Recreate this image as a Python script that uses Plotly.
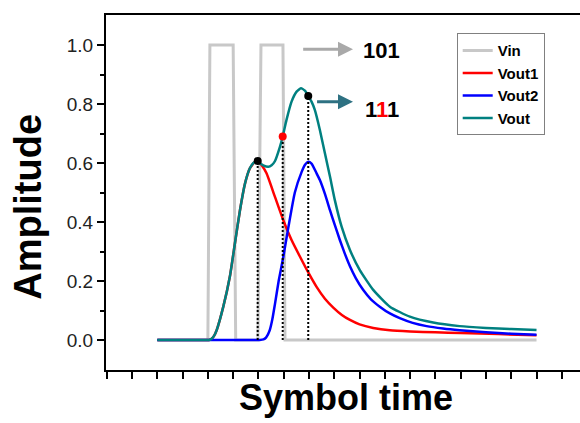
import plotly.graph_objects as go

# ---------------- data (x in symbol-time units) ----------------
vin_x = [2, 4.0, 4.08, 5.0, 5.1, 5.98, 6.1, 6.97, 7.05, 17]
vin_y = [0, 0, 1, 1, 0, 0, 1, 1, 0, 0]

vout1_x = [2, 3.0, 3.6, 3.9, 4.05, 4.15, 4.25, 4.35, 4.61, 4.87, 5.07, 5.27, 5.47, 5.66, 5.85,
           5.99, 6.15, 6.32, 6.65, 6.98, 7.31, 7.64, 7.97, 8.3, 8.63, 8.96, 9.3, 9.62, 10.0,
           10.54, 11.2, 12.0, 13.0, 14.0, 15.5, 17]
vout1_y = [0, 0, 0, 0, 0, 0.004, 0.015, 0.034, 0.113, 0.215, 0.328, 0.44, 0.531, 0.582, 0.603,
           0.605, 0.59, 0.565, 0.486, 0.407, 0.339, 0.283, 0.229, 0.18, 0.14, 0.11, 0.085,
           0.068, 0.053, 0.041, 0.033, 0.029, 0.026, 0.024, 0.02, 0.016]

vout2_x = [2, 3.5, 5.0, 5.8, 6.05, 6.2, 6.3, 6.45, 6.55, 6.65, 6.8, 6.98, 7.18, 7.44, 7.71,
           7.85, 7.97, 8.1, 8.3, 8.43, 8.63, 8.83, 9.02, 9.22, 9.42, 9.62, 9.85, 10.14,
           10.45, 10.8, 11.2, 11.59, 12.1, 12.65, 13.3, 13.96, 15.0, 16.0, 17]
vout2_y = [0, 0, 0, 0, 0, 0.002, 0.008, 0.034, 0.07, 0.12, 0.2, 0.28, 0.38, 0.5, 0.57, 0.595,
           0.604, 0.598, 0.565, 0.542, 0.495, 0.44, 0.39, 0.339, 0.292, 0.25, 0.21, 0.17,
           0.138, 0.113, 0.09, 0.074, 0.058, 0.047, 0.039, 0.033, 0.026, 0.021, 0.018]

vout_x = [2, 3.0, 3.6, 3.9, 4.05, 4.15, 4.25, 4.35, 4.61, 4.87, 5.07, 5.27, 5.47, 5.66, 5.8,
          5.93, 6.05, 6.19, 6.39, 6.52, 6.65, 6.85, 6.96, 7.11, 7.31, 7.51, 7.68, 7.84, 7.97,
          8.1, 8.23, 8.43, 8.63, 8.83, 9.02, 9.29, 9.62, 10.01, 10.54, 11.2, 11.99, 12.91,
          13.96, 15.0, 16.0, 17]
vout_y = [0, 0, 0, 0, 0, 0.004, 0.015, 0.034, 0.113, 0.215, 0.328, 0.44, 0.531, 0.582, 0.6,
          0.606, 0.6, 0.592, 0.587, 0.592, 0.606, 0.655, 0.69, 0.746, 0.808, 0.842, 0.853,
          0.845, 0.827, 0.808, 0.78, 0.712, 0.633, 0.554, 0.475, 0.384, 0.305, 0.237, 0.17,
          0.113, 0.079, 0.059, 0.047, 0.041, 0.037, 0.034]

dot_x = [5.97, 6.96, 7.97]
dot_y = [0.607, 0.69, 0.827]
dot_colors = ["black", "red", "black"]

arrow_tail_x = [7.71, 8.26]
arrow_tip_x = [9.74, 9.74]
arrow_y = [0.986, 0.808]
arrow_colors = ["#a9a9a9", "#2e7182"]
label_x = [10.87, 10.87]
label_y = [0.983, 0.78]
label_text = ["101", "1<span style='color:#ff0000'>1</span>1"]

y_tick_vals = [0.0, 0.2, 0.4, 0.6, 0.8, 1.0]
y_tick_text = ["0.0", "0.2", "0.4", "0.6", "0.8", "1.0"]

FONT = "Liberation Sans, Arial, sans-serif"
SPL = dict(shape="spline", smoothing=0.5)

fig = go.Figure()
fig.add_trace(go.Scatter(x=vin_x, y=vin_y, mode="lines", name="<b>Vin</b>",
                         line=dict(color="#c8c8c8", width=3)))
fig.add_trace(go.Scatter(x=vout1_x, y=vout1_y, mode="lines", name="<b>Vout1</b>",
                         line=dict(color="#ff0000", width=2.5, **SPL)))
fig.add_trace(go.Scatter(x=vout2_x, y=vout2_y, mode="lines", name="<b>Vout2</b>",
                         line=dict(color="#0000ff", width=2.5, **SPL)))
fig.add_trace(go.Scatter(x=vout_x, y=vout_y, mode="lines", name="<b>Vout</b>",
                         line=dict(color="#008080", width=2.5, **SPL)))

for xi, yi in zip(dot_x, dot_y):
    fig.add_trace(go.Scatter(x=[xi, xi], y=[0, yi], mode="lines", showlegend=False,
                             line=dict(color="black", width=2, dash="2px,2px")))
fig.add_trace(go.Scatter(x=dot_x, y=dot_y, mode="markers", showlegend=False,
                         marker=dict(color=dot_colors, size=8)))

for tx, hx, yy, c in zip(arrow_tail_x, arrow_tip_x, arrow_y, arrow_colors):
    fig.add_annotation(x=hx, y=yy, ax=tx, ay=yy, xref="x", yref="y", axref="x", ayref="y",
                       showarrow=True, arrowhead=2, arrowsize=1, arrowwidth=3,
                       arrowcolor=c, standoff=0, startstandoff=0, text="")
for lx, ly, t in zip(label_x, label_y, label_text):
    fig.add_annotation(x=lx, y=ly, xref="x", yref="y", text="<b>" + t + "</b>",
                       showarrow=False, font=dict(family=FONT, size=22, color="black"),
                       xanchor="center", yanchor="middle")

# axis titles placed as annotations
fig.add_annotation(x=(28 - 106) / 474, y=(370 - 206.7) / 355, xref="paper", yref="paper",
                   text="<b>Amplitude</b>", textangle=-90, showarrow=False,
                   font=dict(family=FONT, size=38, color="black"),
                   xanchor="center", yanchor="middle")
fig.add_annotation(x=(346 - 106) / 474, y=(370 - 398) / 355, xref="paper", yref="paper",
                   text="<b>Symbol time</b>", showarrow=False,
                   font=dict(family=FONT, size=36, color="black"),
                   xanchor="center", yanchor="middle")

fig.update_layout(
    width=580, height=423,
    margin=dict(l=106, r=0, t=15, b=53),
    paper_bgcolor="white", plot_bgcolor="white",
    showlegend=True,
    legend=dict(x=(456.7 - 106) / 474, y=(370 - 33.3) / 355, xanchor="left", yanchor="top",
                bgcolor="white", bordercolor="#808080", borderwidth=1,
                font=dict(family=FONT, size=15, color="black"),
                itemwidth=30, tracegroupgap=0),
    font=dict(family=FONT),
)
fig.update_xaxes(range=[-0.03, 18.72], showgrid=False, zeroline=False,
                 showline=True, linecolor="black", linewidth=2, mirror=True,
                 ticks="outside", ticklen=7, tickwidth=2, tickcolor="black",
                 dtick=1, tick0=0, showticklabels=False)
fig.update_yaxes(range=[-0.1017, 1.1017], showgrid=False, zeroline=False,
                 showline=True, linecolor="black", linewidth=2, mirror=False,
                 ticks="outside", ticklen=7, tickwidth=2, tickcolor="black",
                 tickvals=y_tick_vals, ticktext=y_tick_text,
                 tickfont=dict(family=FONT, size=19, color="#222222"),
                 minor=dict(tickvals=[0.1, 0.3, 0.5, 0.7, 0.9], ticks="outside",
                            ticklen=4, tickwidth=2, tickcolor="black"))

fig.write_html("out.html")
